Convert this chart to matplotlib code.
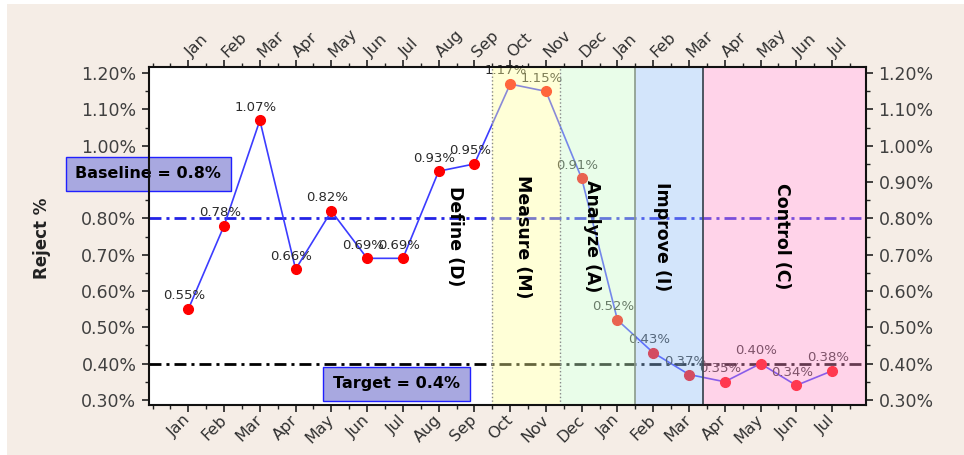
import numpy as np
import matplotlib
matplotlib.use("Agg")
import matplotlib.pyplot as plt
from matplotlib.patches import Rectangle
from matplotlib.ticker import MultipleLocator, FuncFormatter

# monthly reject rate (%)
months = ["Jan", "Feb", "Mar", "Apr", "May", "Jun", "Jul", "Aug", "Sep", "Oct",
          "Nov", "Dec", "Jan", "Feb", "Mar", "Apr", "May", "Jun", "Jul"]
reject = [0.55, 0.78, 1.07, 0.66, 0.82, 0.69, 0.69, 0.93, 0.95, 1.17,
          1.15, 0.91, 0.52, 0.43, 0.37, 0.35, 0.40, 0.34, 0.38]
baseline = 0.8
target = 0.4

# DMAIC phases
phase_names = ["Define (D)", "Measure (M)", "Analyze (A)", "Improve (I)", "Control (C)"]
phase_edges = [-1.1, 8.5, 10.4, 12.5, 14.4, 18.95]
phase_colors = [None, "#ffff9b", "#cafaca", "#93c0f5", "#ff91ca"]
phase_text_x = [7.45, 9.35, 11.3, 13.25, 16.6]

x = np.arange(len(months))

fig = plt.figure(figsize=(9.64, 4.55), dpi=100)
fig.patch.set_facecolor("white")
fig.patches.append(Rectangle((7 / 964, 0), 1, 1 - 4 / 455, transform=fig.transFigure,
                             facecolor="#f5ede6", edgecolor="none", zorder=-10))

ax = fig.add_axes([149 / 964, 1 - 405 / 455, (866 - 149) / 964, (405 - 67) / 455])
ax.set_facecolor("white")
ax.set_xlim(phase_edges[0], phase_edges[-1])
ax.set_ylim(0.286, 1.217)

# reference lines
ax.axhline(baseline, color="#2323e6", lw=2, dashes=[4.3, 1.8, 1.1, 1.8], zorder=2)
ax.axhline(target, color="black", lw=2, dashes=[4.3, 1.8, 1.1, 1.8], zorder=2)

# data
ax.plot(x, reject, color="#3c3cff", lw=1.2, marker="o", markersize=7,
        markerfacecolor="red", markeredgecolor="red", zorder=2)
for xi, v in zip(x, reject):
    ax.annotate("{:.2f}%".format(v), (xi, v), xytext=(-3, 9.5), textcoords="offset points",
                ha="center", va="center", fontsize=9.5, color="#2a2a2a", zorder=2)

# phase shading drawn over the data
for i in range(1, len(phase_names)):
    ax.axvspan(phase_edges[i], phase_edges[i + 1], facecolor=phase_colors[i],
               alpha=0.4, edgecolor="none", zorder=3)
ax.axvline(phase_edges[1], color="#888888", lw=1, ls=":", zorder=3.5)
ax.axvline(phase_edges[2], color="#888888", lw=1, ls=":", zorder=3.5)
ax.axvline(phase_edges[3], color="#8a9a8a", lw=1.2, zorder=3.5)
ax.axvline(phase_edges[4], color="#404a55", lw=1.3, zorder=3.5)

for name, px in zip(phase_names, phase_text_x):
    ax.text(px, 0.75, name, rotation=-90, ha="center", va="center",
            fontsize=12.5, fontweight="bold", color="black", zorder=4)

# baseline / target boxes
ax.text(-1.12, 0.923, "Baseline = 0.8%", ha="center", va="center", fontsize=11.5,
        fontweight="bold", color="black", clip_on=False, zorder=5,
        bbox=dict(boxstyle="square,pad=0.6", facecolor="#a8a8e0", edgecolor="#2020ff", lw=1))
ax.text(5.82, 0.344, "Target = 0.4%", ha="center", va="center", fontsize=11.5,
        fontweight="bold", color="black", clip_on=False, zorder=5,
        bbox=dict(boxstyle="square,pad=0.6", facecolor="#a8a8e0", edgecolor="#2020ff", lw=1))

# axes and ticks
ax.set_xticks(x)
ax.set_xticklabels(months)
ax.xaxis.set_minor_locator(MultipleLocator(0.5))
ax.yaxis.set_major_locator(MultipleLocator(0.1))
ax.yaxis.set_minor_locator(MultipleLocator(0.05))
ax.yaxis.set_major_formatter(FuncFormatter(lambda v, p: "{:.2f}%".format(v)))

ax.tick_params(axis="both", which="both", direction="out", top=True, right=True,
               labeltop=True, labelright=True, color="#222222")
ax.tick_params(which="major", length=5, width=1.2)
ax.tick_params(which="minor", length=3, width=1)
ax.tick_params(axis="y", labelsize=12.5, labelcolor="#404040", pad=4)
ax.tick_params(axis="x", labelsize=11.5, labelcolor="#303030", pad=4)

for t in ax.xaxis.get_major_ticks():
    t.label1.set_rotation(45)
    t.label1.set_rotation_mode("anchor")
    t.label1.set_ha("right")
    t.label1.set_va("center")
    t.label2.set_rotation(45)
    t.label2.set_rotation_mode("anchor")
    t.label2.set_ha("left")
    t.label2.set_va("center")

for s in ax.spines.values():
    s.set_linewidth(1.5)
    s.set_color("#111111")
    s.set_zorder(6)

fig.text(42 / 964, 1 - 238 / 455, "Reject %", rotation=90, ha="center", va="center",
         fontsize=12, fontweight="bold", color="#222222")

fig.savefig("out.png", dpi=100, facecolor=fig.get_facecolor())
